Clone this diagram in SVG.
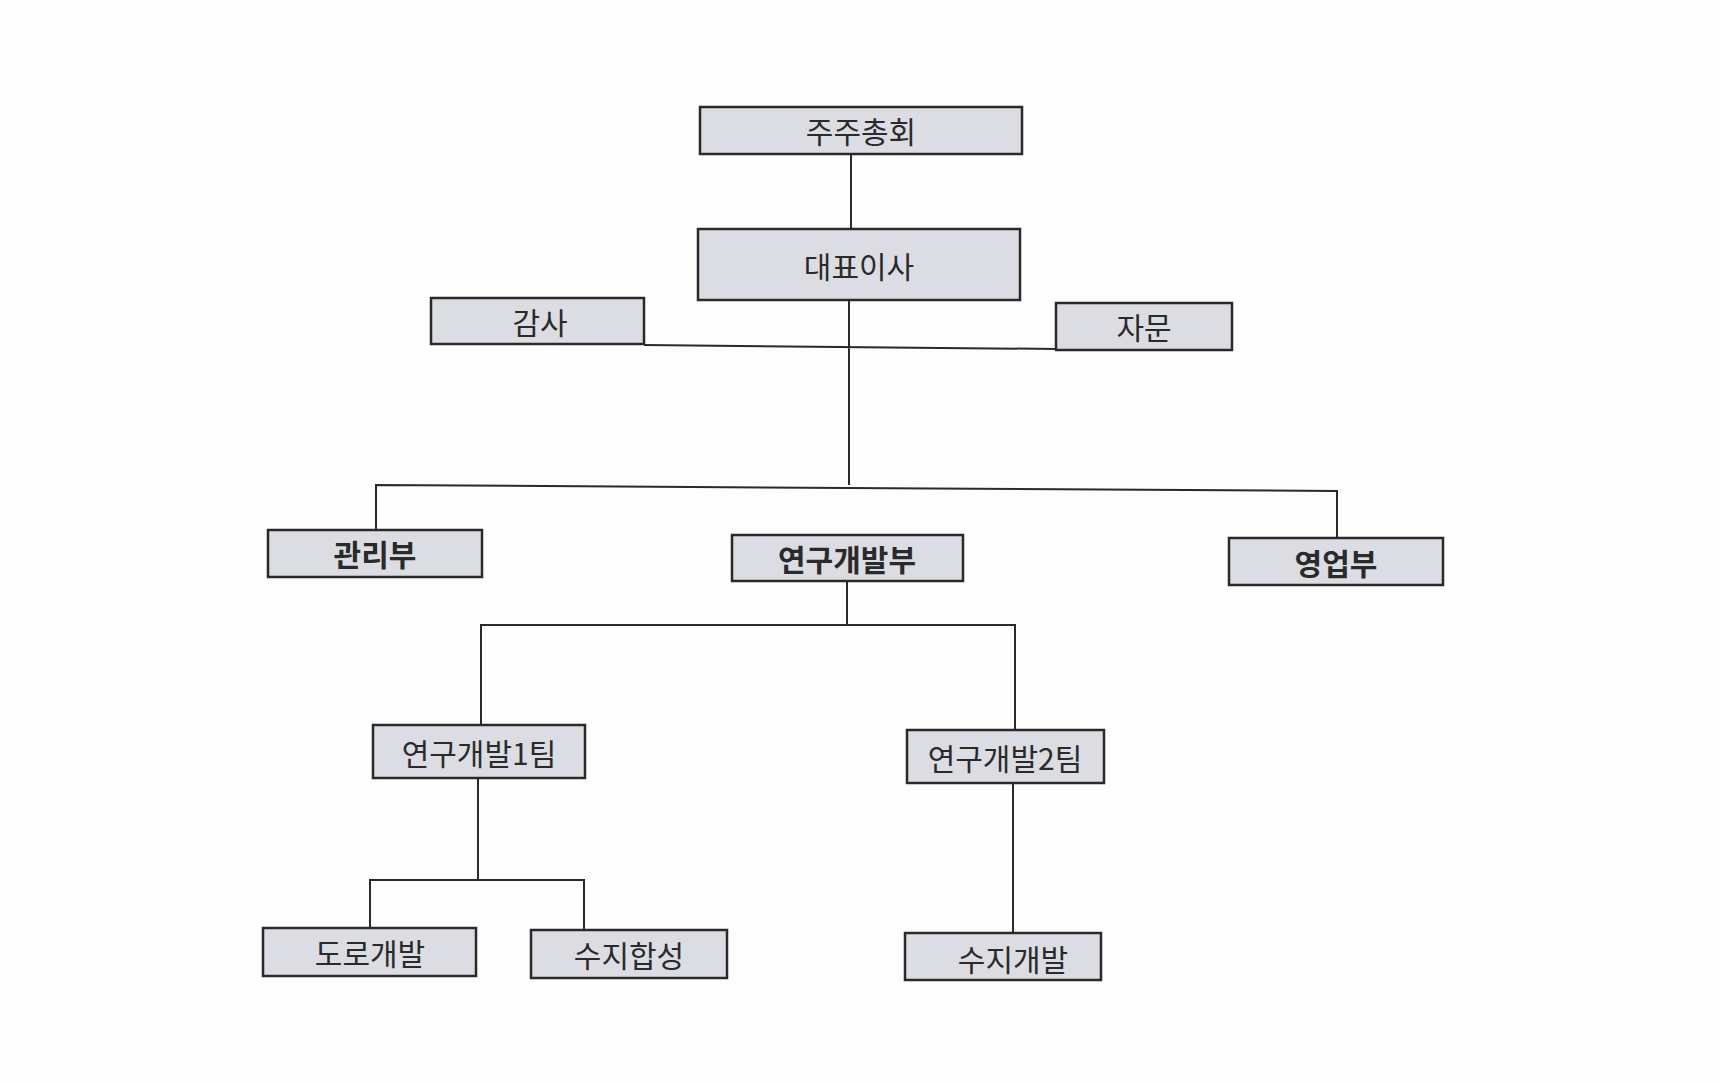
<svg xmlns="http://www.w3.org/2000/svg" width="1720" height="1084" viewBox="0 0 1720 1084">
<style>
.b{fill:#dcdde2;stroke:#2a2a2a;stroke-width:2.5}
.t{font-family:"Noto Sans CJK KR","Liberation Sans",sans-serif;font-size:30px;fill:#2a2a2a;text-anchor:middle;dominant-baseline:central}
.bold{font-weight:bold}
.c{stroke:#2a2a2a;stroke-width:2;fill:none}
</style>
<rect width="1720" height="1084" fill="#fdfdfd"/>
<g id="connectors">
<path class="c" d="M851 154V229M849 300V485M644 345L1056 349M376 530V485L1337 491V538M847 581V625M481 725V625H1015V730M478 778V880M370 929V880H584V930M1013 783V933"/>
</g>
<g id="n1"><rect class="b" x="700" y="107" width="322" height="47"/><text class="t" x="861" y="130">주주총회</text></g>
<g id="n2"><rect class="b" x="698" y="229" width="322" height="71"/><text class="t" x="859" y="265">대표이사</text></g>
<g id="n3"><rect class="b" x="431" y="298" width="213" height="46"/><text class="t" x="540" y="321">감사</text></g>
<g id="n4"><rect class="b" x="1056" y="303" width="176" height="47"/><text class="t" x="1144" y="326">자문</text></g>
<g id="n5"><rect class="b" x="268" y="530" width="214" height="47"/><text class="t bold" x="375" y="553">관리부</text></g>
<g id="n6"><rect class="b" x="732" y="535" width="231" height="46"/><text class="t bold" x="847" y="558">연구개발부</text></g>
<g id="n7"><rect class="b" x="1229" y="538" width="214" height="47"/><text class="t bold" x="1336" y="562">영업부</text></g>
<g id="n8"><rect class="b" x="373" y="725" width="212" height="53"/><text class="t" x="479" y="752">연구개발1팀</text></g>
<g id="n9"><rect class="b" x="907" y="730" width="197" height="53"/><text class="t" x="1005" y="757">연구개발2팀</text></g>
<g id="n10"><rect class="b" x="263" y="928" width="213" height="48"/><text class="t" x="370" y="952">도로개발</text></g>
<g id="n11"><rect class="b" x="531" y="930" width="196" height="48"/><text class="t" x="629" y="954">수지합성</text></g>
<g id="n12"><rect class="b" x="905" y="933" width="196" height="47"/><text class="t" x="1013" y="958">수지개발</text></g>
</svg>
